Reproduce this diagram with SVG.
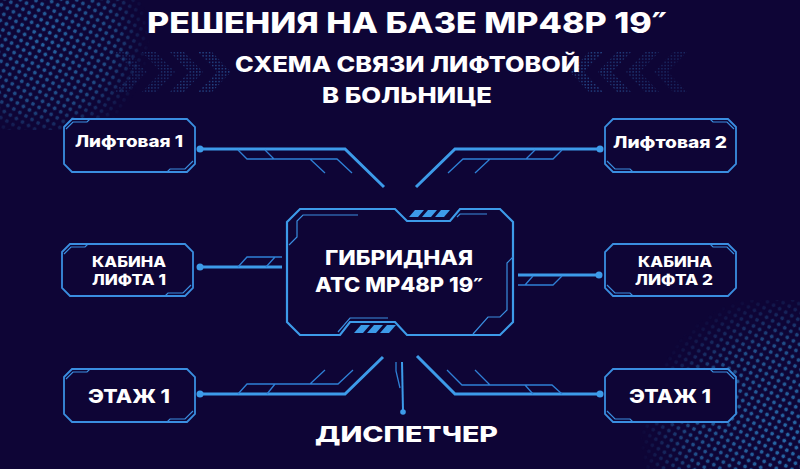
<svg xmlns="http://www.w3.org/2000/svg" width="800" height="469" viewBox="0 0 800 469">
<defs>
<style>
.box{fill:#0e0536;stroke:#3a8ee0;stroke-width:1.8;stroke-linejoin:miter}
.inner{fill:none;stroke:#3a8ee0;stroke-width:1.2}
.main{fill:none;stroke:#3d9be9;stroke-width:3;stroke-linejoin:miter}
.thin{fill:none;stroke:#2f80d6;stroke-width:1.3}
.dot{fill:#3d9be9}
.stripe{fill:#3d9be9}
.t{font-family:"Inter","Open Sans","DejaVu Sans",sans-serif;font-weight:800;fill:#ffffff}
.q{font-family:"DejaVu Sans",sans-serif;font-weight:700}
</style>
<pattern id="ht" width="7" height="7" patternUnits="userSpaceOnUse" patternTransform="rotate(30)"><circle cx="3.5" cy="3.5" r="1.9" fill="#2a74b4"/></pattern>
<pattern id="fine" width="3.2" height="3.2" patternUnits="userSpaceOnUse"><rect x="0.9" y="0.9" width="1.2" height="1.2" fill="#3b8fe0"/></pattern>
<radialGradient id="gTL" cx="45" cy="40" r="105" gradientUnits="userSpaceOnUse"><stop offset="0" stop-color="#fff" stop-opacity="0.85"/><stop offset="0.65" stop-color="#fff" stop-opacity="0.6"/><stop offset="1" stop-color="#fff" stop-opacity="0"/></radialGradient>
<radialGradient id="gBR" cx="790" cy="440" r="150" gradientUnits="userSpaceOnUse"><stop offset="0" stop-color="#fff" stop-opacity="0.9"/><stop offset="0.65" stop-color="#fff" stop-opacity="0.65"/><stop offset="1" stop-color="#fff" stop-opacity="0"/></radialGradient>
<mask id="mTL"><rect x="0" y="0" width="160" height="130" fill="url(#gTL)"/></mask>
<mask id="mBR"><rect x="620" y="300" width="180" height="169" fill="url(#gBR)"/></mask>
<g id="chev">
<polygon points="113,51 127,51 147,72 127,93 113,93 133,72" fill="url(#fine)" opacity="0.35"/>
<polygon points="141,51 155,51 175,72 155,93 141,93 161,72" fill="url(#fine)" opacity="0.45"/>
<polygon points="169,51 183,51 203,72 183,93 169,93 189,72" fill="url(#fine)" opacity="0.55"/>
<polygon points="197,51 211,51 231,72 211,93 197,93 217,72" fill="url(#fine)" opacity="0.65"/>
</g>
</defs>
<rect width="800" height="469" fill="#0e0536"/>
<rect x="0" y="0" width="160" height="130" fill="url(#ht)" mask="url(#mTL)"/>
<rect x="620" y="300" width="180" height="169" fill="url(#ht)" mask="url(#mBR)"/>
<use href="#chev"/>
<use href="#chev" transform="translate(801,0) scale(-1,1)"/>

<g id="title">
<text class="t" x="147" y="33" font-size="28" textLength="520" lengthAdjust="spacingAndGlyphs">РЕШЕНИЯ НА БАЗЕ МР48Р 19<tspan class="q">″</tspan></text>
<text class="t" x="235" y="72" font-size="21" textLength="345" lengthAdjust="spacingAndGlyphs">СХЕМА СВЯЗИ ЛИФТОВОЙ</text>
<text class="t" x="322" y="103" font-size="21" textLength="170" lengthAdjust="spacingAndGlyphs">В БОЛЬНИЦЕ</text>
</g>

<g id="connectors">
<path class="main" d="M200,149 H345 L384,187"/>
<path class="thin" d="M238,150 L247,159 H337 L352,173 M265,150 L274,159 M310,159 L325,173"/>
<circle class="dot" cx="200" cy="149" r="3.5"/>
<path class="main" d="M600,149 H455 L416,187"/>
<path class="thin" d="M562,150 L553,159 H463 L448,173 M535,150 L526,159 M490,159 L475,173"/>
<circle class="dot" cx="600" cy="149" r="3.5"/>
<path class="main" d="M200,267 H282"/>
<path class="thin" d="M238,267 L247,257 H282 M266,267 L275,257"/>
<circle class="dot" cx="200" cy="267" r="3.5"/>
<path class="main" d="M599,275 H518"/>
<path class="thin" d="M518,285 H553 L562,276 M525,285 L533,276"/>
<circle class="dot" cx="599" cy="275" r="3.5"/>
<path class="main" d="M200,394 H345 L383,357"/>
<path class="thin" d="M238,394 L247,384 H338 L353,370 M267,394 L275,384 M310,384 L325,370"/>
<circle class="dot" cx="200" cy="394" r="3.5"/>
<path class="main" d="M600,394 H455 L417,356"/>
<path class="thin" d="M562,394 L552,385 H462 L447,370 M533,394 L525,385 M490,385 L475,370"/>
<circle class="dot" cx="600" cy="394" r="3.5"/>
<path class="main" d="M402,362 L403,411" style="stroke-width:2"/>
<path class="thin" d="M396,362 V371 L400,388"/>
<circle class="dot" cx="403" cy="412" r="2.8"/>
</g>

<g id="n-center">
<path class="box" d="M287,222 L300,209 H395 L407,221 H450 L460,209 H500 L513,222 V322 L500,335 H407 L395,322 H350 L340,335 H300 L287,322 Z" style="stroke-width:2.2;stroke:#3d9be9"/>
<path class="inner" d="M289,245 L297,237 V221 L303,215 H358 M457,217 L460,214 H487 M513,257 L507,263 V310 L500,317 H488 L473,334 M338,332 L350,318 H388"/>
<polygon class="stripe" points="409,217 415,210 424,210 418,217"/>
<polygon class="stripe" points="422,217 428,210 437,210 431,217"/>
<polygon class="stripe" points="435,217 441,210 450,210 444,217"/>
<polygon class="stripe" points="354,333 361,325 370,325 363,333"/>
<polygon class="stripe" points="367,333 374,325 383,325 376,333"/>
<polygon class="stripe" points="380,333 387,325 396,325 389,333"/>
<text class="t" x="325" y="265" font-size="20" textLength="148" lengthAdjust="spacingAndGlyphs">ГИБРИДНАЯ</text>
<text class="t" x="315" y="292" font-size="20" textLength="168" lengthAdjust="spacingAndGlyphs">АТС МР48Р 19<tspan class="q">″</tspan></text>
</g>

<g id="n-lift1">
<g transform="translate(64,119)"><path class="box" d="M0,8 L8,0 H123 L131,8 V45 L123,53 H8 L0,45 Z"/><path class="inner" d="M2,10 L9,3 H23 L26,0 M103,53 L106,50 H121 L129,42"/></g>
<text class="t" x="75" y="147" font-size="16" textLength="108" lengthAdjust="spacingAndGlyphs">Лифтовая 1</text>
</g>
<g id="n-lift2">
<g transform="translate(736,119) scale(-1,1)"><path class="box" d="M0,8 L8,0 H123 L131,8 V45 L123,53 H8 L0,45 Z"/><path class="inner" d="M2,10 L9,3 H23 L26,0 M103,53 L106,50 H121 L129,42"/></g>
<text class="t" x="613" y="148" font-size="16" textLength="114" lengthAdjust="spacingAndGlyphs">Лифтовая 2</text>
</g>
<g id="n-cab1">
<g transform="translate(62,244)"><path class="box" d="M0,8 L8,0 H123 L131,8 V44 L123,52 H8 L0,44 Z"/><path class="inner" d="M2,10 L9,3 H23 L26,0 M103,52 L106,49 H121 L129,41"/></g>
<text class="t" x="92" y="267" font-size="15" textLength="74" lengthAdjust="spacingAndGlyphs">КАБИНА</text>
<text class="t" x="92" y="285" font-size="15" textLength="74" lengthAdjust="spacingAndGlyphs">ЛИФТА 1</text>
</g>
<g id="n-cab2">
<g transform="translate(736,244) scale(-1,1)"><path class="box" d="M0,8 L8,0 H123 L131,8 V44 L123,52 H8 L0,44 Z"/><path class="inner" d="M2,10 L9,3 H23 L26,0 M103,52 L106,49 H121 L129,41"/></g>
<text class="t" x="638" y="267" font-size="15" textLength="74" lengthAdjust="spacingAndGlyphs">КАБИНА</text>
<text class="t" x="635" y="285" font-size="15" textLength="78" lengthAdjust="spacingAndGlyphs">ЛИФТА 2</text>
</g>
<g id="n-floor1">
<g transform="translate(64,369)"><path class="box" d="M0,8 L8,0 H123 L131,8 V45 L123,53 H8 L0,45 Z"/><path class="inner" d="M2,10 L9,3 H23 L26,0 M103,53 L106,50 H121 L129,42"/></g>
<text class="t" x="88" y="403" font-size="19" textLength="82" lengthAdjust="spacingAndGlyphs">ЭТАЖ 1</text>
</g>
<g id="n-floor2">
<g transform="translate(736,369) scale(-1,1)"><path class="box" d="M0,8 L8,0 H123 L131,8 V45 L123,53 H8 L0,45 Z"/><path class="inner" d="M2,10 L9,3 H23 L26,0 M103,53 L106,50 H121 L129,42"/></g>
<text class="t" x="629" y="403" font-size="19" textLength="82" lengthAdjust="spacingAndGlyphs">ЭТАЖ 1</text>
</g>
<g id="n-dispatcher">
<text class="t" x="315" y="442" font-size="22" textLength="183" lengthAdjust="spacingAndGlyphs">ДИСПЕТЧЕР</text>
</g>
</svg>
